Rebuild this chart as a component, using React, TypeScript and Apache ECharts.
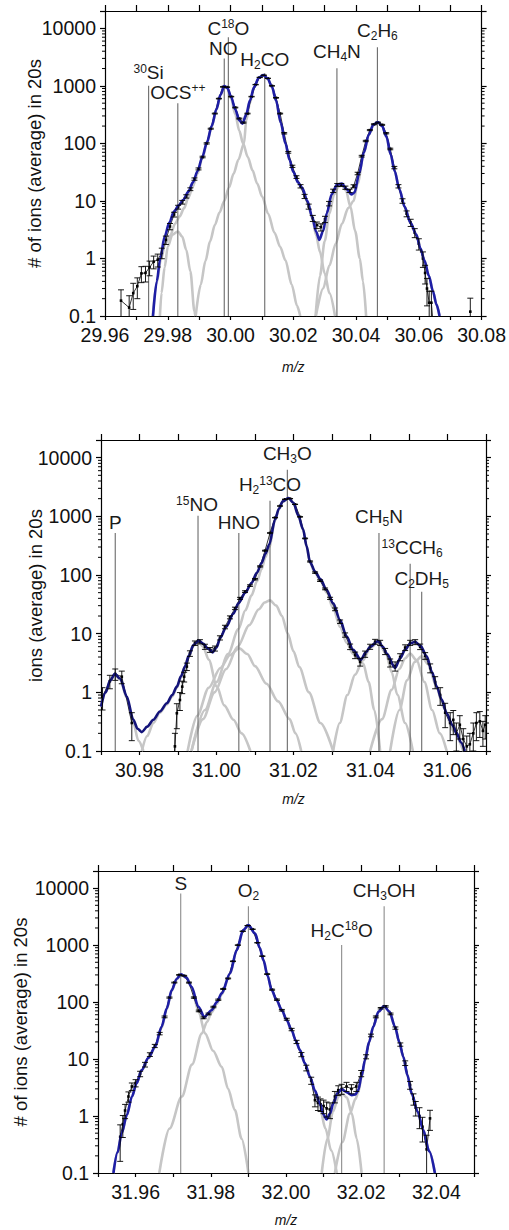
import React, { useEffect, useRef } from 'react';
import * as echarts from 'echarts';

type Pt = [number, number];
type DP = [number, number, number] | null;

// ---------------- Panel 1 (m/z 30) ----------------
const p1Fit: Pt[] = [
  [29.9753, 0.1], [29.9765, 0.4], [29.9776, 1.0], [29.979, 2.4], [29.9805, 4.2], [29.982, 6.6],
  [29.9835, 8.4], [29.985, 10.5], [29.9865, 14.4], [29.988, 21], [29.9895, 33], [29.991, 58],
  [29.9925, 105], [29.994, 200], [29.9955, 390], [29.9968, 700], [29.998, 990], [29.999, 920],
  [30.0002, 640], [30.0015, 390], [30.0028, 250], [30.0038, 221], [30.005, 320], [30.0062, 560],
  [30.0075, 950], [30.009, 1380], [30.0104, 1540], [30.0118, 1350], [30.0132, 960], [30.0145, 560],
  [30.016, 230], [30.0175, 100], [30.0188, 52], [30.02, 32], [30.0215, 21], [30.0228, 17],
  [30.0245, 10], [30.026, 5.3], [30.0273, 2.9], [30.0283, 2.1], [30.0295, 3.0], [30.0307, 6.1],
  [30.0322, 13], [30.034, 19.5], [30.0355, 20], [30.037, 16], [30.0385, 13], [30.0395, 14],
  [30.041, 30], [30.0425, 70], [30.044, 140], [30.0455, 210], [30.0469, 236], [30.0483, 200],
  [30.0497, 130], [30.051, 65], [30.0523, 33], [30.0538, 16], [30.0555, 7.9], [30.0573, 4.2],
  [30.0592, 2.6], [30.0605, 1.5], [30.0618, 0.92], [30.0632, 0.5], [30.0645, 0.27], [30.0656, 0.16],
  [30.0666, 0.1],
];
const p1CompOCS: Pt[] = [
  [29.9775, 0.1], [29.978, 0.25], [29.979, 0.7], [29.98, 1.6], [29.9815, 2.6], [29.9832, 2.95],
  [29.9846, 2.4], [29.9859, 1.4], [29.9872, 0.6], [29.9885, 0.12], [29.9888, 0.1],
];
const p1CompNO: Pt[] = [
  [29.9752, 0.1], [29.9765, 0.38], [29.9778, 0.95], [29.9792, 1.8], [29.9808, 2.5], [29.9823, 4.0],
  [29.9838, 5.4], [29.9852, 7.5], [29.9866, 11.5], [29.988, 18], [29.9895, 30], [29.991, 55],
  [29.9925, 100], [29.994, 195], [29.9955, 385], [29.9968, 690], [29.998, 980], [29.999, 900],
  [30.0002, 600], [30.0015, 320], [30.0028, 165], [30.004, 100], [30.0055, 58], [30.007, 34],
  [30.0085, 20], [30.0101, 11.8], [30.012, 6], [30.014, 2.8], [30.0158, 1.6], [30.0175, 0.93],
  [30.0195, 0.35], [30.0212, 0.15], [30.0222, 0.1],
];
const p1CompH2CO: Pt[] = [
  [29.9889, 0.1], [29.9905, 0.35], [29.992, 0.9], [29.9935, 2.0], [29.995, 3.8], [29.9965, 6.3],
  [29.998, 10], [29.9995, 17], [30.001, 30], [30.0025, 52], [30.0043, 100], [30.005, 250],
  [30.0062, 510], [30.0075, 930], [30.009, 1370], [30.0104, 1530], [30.0118, 1340], [30.0132, 955],
  [30.0145, 557], [30.016, 228], [30.0175, 99], [30.0188, 52], [30.02, 32], [30.0215, 21],
  [30.0228, 16], [30.0245, 9.5], [30.026, 5], [30.0273, 2.5], [30.0285, 1.3], [30.03, 0.55],
  [30.0315, 0.25], [30.0333, 0.1],
];
const p1CompCH4N: Pt[] = [
  [30.0271, 0.1], [30.0285, 0.5], [30.03, 2], [30.0315, 6], [30.033, 13], [30.0345, 18],
  [30.0355, 18.5], [30.0368, 15], [30.0382, 8], [30.0397, 3], [30.0412, 1], [30.0422, 0.4],
  [30.0432, 0.1],
];
const p1CompC2H6: Pt[] = [
  [30.0272, 0.1], [30.0295, 0.3], [30.0315, 0.75], [30.0335, 1.8], [30.0355, 4], [30.0375, 7.5],
  [30.0392, 10], [30.0405, 20], [30.0425, 68], [30.044, 138], [30.0455, 208], [30.0469, 236],
  [30.0483, 200], [30.0497, 130], [30.051, 65], [30.0523, 33], [30.0538, 15.5], [30.0555, 7.9],
  [30.0573, 4.2], [30.0592, 2.6], [30.0605, 1.5], [30.0618, 0.92], [30.0632, 0.5], [30.0645, 0.27],
  [30.0656, 0.16], [30.0666, 0.1],
];
const p1Data: DP[] = [
  [29.9651, 0.185, 0.1], [29.9677, 0.14, 0.085], [29.969, 0.25, 0.12], [29.9703, 0.33, 0.13],
  [29.9716, 0.55, 0.17], [29.9729, 0.56, 0.17], [29.9742, 0.7, 0.2], [29.9755, 0.88, 0.22],
  [29.9768, 0.95, 0.24], [29.9781, 1.25, 0.26], [29.9794, 2.1, 0.35], [29.9807, 3.6, 0.45],
  [29.982, 5.8, 0.55], [29.9833, 7.8, 0.6], [29.9846, 9.5, 0.7], [29.9859, 12, 0.8],
  [29.9872, 16, 0.9], [29.9885, 24, 1.1], [29.9898, 36, 1.4], [29.9911, 58, 1.8],
  [29.9924, 100, 2.5], [29.9937, 180, 3.5], [29.995, 330, 5], [29.9963, 600, 7],
  [29.9976, 960, 9], [29.9989, 950, 9], [30.0002, 650, 7], [30.0015, 420, 6],
  [30.0028, 270, 5], [30.0041, 230, 5], [30.0054, 330, 5], [30.0067, 650, 7],
  [30.008, 1050, 9], [30.0093, 1400, 11], [30.0106, 1530, 11], [30.0119, 1350, 10],
  [30.0132, 1000, 9], [30.0145, 620, 7], [30.0158, 330, 5], [30.0171, 150, 4],
  [30.0184, 70, 2.5], [30.0197, 40, 1.8], [30.021, 26, 1.4], [30.0223, 18, 1.2],
  [30.0236, 12, 1], [30.0249, 8, 0.8], [30.0262, 5, 0.6], [30.0275, 3.8, 0.5],
  [30.0288, 3.5, 0.5], [30.0301, 4.8, 0.6], [30.0314, 9, 0.8], [30.0327, 15, 1],
  [30.034, 19, 1.1], [30.0353, 19, 1.1], [30.0366, 17, 1.1], [30.0379, 15, 1],
  [30.0392, 18, 1.1], [30.0405, 30, 1.5], [30.0418, 60, 2], [30.0431, 110, 3],
  [30.0444, 170, 3.5], [30.0457, 215, 4], [30.047, 230, 4], [30.0483, 210, 4],
  [30.0496, 150, 3.5], [30.0509, 80, 2.5], [30.0522, 38, 1.8], [30.0535, 18, 1.2],
  [30.0548, 10, 0.9], [30.0561, 6, 0.7], [30.0574, 4.2, 0.6], [30.0587, 2.8, 0.5],
  [30.06, 1.8, 0.4], [30.0613, 1.0, 0.3], [30.062, 0.56, 0.2], [30.0626, 0.3, 0.15],
  [30.0633, 0.17, 0.1], [30.064, 0.17, 0.1], [30.0648, 0.05, 0],
  null,
  [30.0764, 0.119, 0.085],
];
const p1Lines: Pt[] = [
  [29.9739, 1000], [29.9832, 500], [29.998, 3000], [29.9993, 7000], [30.0109, 1660], [30.0339, 2020], [30.0468, 4700],
];
const p1Labels: string[] = [
  '{sup|30}{m|Si}', '{m|OCS}{sup|++}', '{m|NO}', '{m|C}{sup|18}{m|O}', '{m|H}{sub|2}{m|CO}', '{m|CH}{sub|4}{m|N}', '{m|C}{sub|2}{m|H}{sub|6}',
];
const p1LabelOffsets: Pt[] = [[0, -13], [0, -11], [-1, -10], [0, -9], [0, -14], [0, -17], [0, -17]];

// ---------------- Panel 2 (m/z 31) ----------------
const p2Fit: Pt[] = [
  [30.97, 0.57], [30.9712, 1.0], [30.9724, 1.6], [30.9736, 2.06], [30.975, 1.7], [30.9767, 0.85],
  [30.9784, 0.34], [30.9795, 0.24], [30.9806, 0.21], [30.982, 0.26], [30.9836, 0.34], [30.9853, 0.47],
  [30.9871, 0.65], [30.9885, 0.9], [30.9897, 1.25], [30.9908, 1.9], [30.9918, 2.75], [30.9928, 4.2],
  [30.994, 6.4], [30.9953, 7.6], [30.9965, 6.8], [30.9978, 5.6], [30.999, 4.8], [31.0, 5.8],
  [31.001, 8.5], [31.0025, 13], [31.0044, 22], [31.0057, 33], [31.0075, 50], [31.0091, 73],
  [31.0105, 110], [31.0117, 160], [31.0127, 230], [31.0137, 330], [31.0152, 875], [31.0162, 1350],
  [31.0172, 1800], [31.0187, 2050], [31.02, 1700], [31.0212, 1050], [31.0225, 600], [31.0234, 310],
  [31.0243, 165], [31.0256, 115], [31.027, 85], [31.0286, 56], [31.0303, 33], [31.0321, 17],
  [31.0338, 9], [31.0355, 5.3], [31.0375, 3.6], [31.0388, 4.8], [31.0399, 6.0], [31.042, 7.5],
  [31.0432, 6.0], [31.0442, 4.6], [31.0464, 2.6], [31.0477, 3.8], [31.049, 5.3], [31.0503, 6.8],
  [31.0516, 7.3], [31.053, 6.2], [31.0546, 4.1], [31.056, 2.2], [31.0572, 1.25], [31.0585, 0.75],
  [31.0598, 0.44], [31.0612, 0.28], [31.0624, 0.2], [31.0635, 0.14], [31.0645, 0.1],
];
const p2CompP: Pt[] = [
  [30.97, 0.57], [30.9712, 1.0], [30.9724, 1.6], [30.9736, 2.0], [30.975, 1.65], [30.9767, 0.8],
  [30.9784, 0.3], [30.9797, 0.15], [30.981, 0.1],
];
const p2Comp15NO: Pt[] = [
  [30.9806, 0.1], [30.982, 0.18], [30.9836, 0.3], [30.9853, 0.45], [30.9871, 0.62], [30.9885, 0.85],
  [30.9897, 1.2], [30.9908, 1.8], [30.9918, 2.7], [30.9928, 4.1], [30.994, 6.2], [30.9953, 7.2],
  [30.9965, 6.0], [30.998, 3.6], [31.0001, 1.25], [31.002, 0.6], [31.0044, 0.34], [31.0065, 0.2],
  [31.0088, 0.1],
];
const p2CompHNO: Pt[] = [
  [30.9925, 0.1], [30.995, 0.4], [30.998, 1.2], [31.001, 2.6], [31.0035, 4.3], [31.0059, 5.65],
  [31.008, 4.5], [31.01, 2.8], [31.013, 1.4], [31.016, 0.7], [31.019, 0.35], [31.0205, 0.2],
  [31.022, 0.1],
];
const p2CompH213CO: Pt[] = [
  [30.9935, 0.1], [30.9965, 0.35], [30.9995, 1.0], [31.0025, 2.5], [31.0055, 6], [31.0085, 14],
  [31.011, 26], [31.0125, 34], [31.0139, 37], [31.0155, 30], [31.017, 20], [31.0185, 10],
  [31.02, 5], [31.0215, 2.7], [31.024, 1.0], [31.027, 0.3], [31.0303, 0.1],
];
const p2CompCH3O: Pt[] = [
  [30.9935, 0.1], [30.997, 0.5], [31.0, 1.5], [31.003, 4.5], [31.0057, 12], [31.0075, 25],
  [31.0091, 45], [31.0105, 78], [31.0117, 125], [31.0127, 200], [31.0137, 300], [31.0152, 840],
  [31.0162, 1320], [31.0172, 1780], [31.0187, 2040], [31.02, 1690], [31.0212, 1045], [31.0225, 595],
  [31.0234, 305], [31.0243, 160], [31.0256, 108], [31.027, 80], [31.0286, 50], [31.0303, 27],
  [31.0321, 13], [31.0338, 7], [31.0355, 4.5], [31.0381, 3.1], [31.0395, 1.5], [31.041, 0.5],
  [31.0425, 0.1],
];
const p2CompCH5N: Pt[] = [
  [31.0303, 0.1], [31.032, 0.3], [31.034, 0.9], [31.036, 2.0], [31.038, 3.5], [31.04, 5.8],
  [31.042, 7.2], [31.044, 4.6], [31.0455, 2.2], [31.047, 0.9], [31.049, 0.3], [31.051, 0.1],
];
const p2Comp13CCH6: Pt[] = [
  [31.0399, 0.1], [31.043, 0.35], [31.0455, 1.1], [31.0475, 2.5], [31.049, 3.8], [31.0503, 4.6],
  [31.052, 3.5], [31.054, 1.5], [31.056, 0.5], [31.058, 0.2], [31.0598, 0.1],
];
const p2CompC2DH5: Pt[] = [
  [31.0451, 0.1], [31.0475, 0.5], [31.0495, 1.6], [31.0515, 3.3], [31.0533, 4.1], [31.055, 3.0],
  [31.057, 1.3], [31.059, 0.55], [31.0615, 0.22], [31.0641, 0.1],
];
const p2Data: DP[] = [
  [30.9704, 0.85, 0.35], [30.9723, 1.55, 0.4], [30.9737, 2.05, 0.45], [30.9754, 1.85, 0.45],
  [30.978, 0.3, 0.15],
  null,
  [30.9885, 0.04, 0], [30.9892, 0.12, 0.08], [30.9897, 0.44, 0.2], [30.9905, 0.74, 0.25],
  [30.9911, 1.25, 0.3], [30.9916, 1.85, 0.35], [30.9923, 2.75, 0.4], [30.9931, 4.6, 0.5],
  [30.9944, 6.9, 0.6], [30.9957, 7.3, 0.6], [30.997, 6.0, 0.6], [30.9983, 5.3, 0.5],
  [30.9996, 5.6, 0.55], [31.0009, 8.5, 0.7], [31.0022, 13, 0.9], [31.0035, 19, 1.1],
  [31.0048, 27, 1.3], [31.0061, 40, 1.6], [31.0074, 52, 1.8], [31.0087, 66, 2],
  [31.01, 85, 2.3], [31.0113, 140, 3], [31.0126, 260, 4], [31.0139, 520, 6],
  [31.0152, 950, 8], [31.0165, 1500, 10], [31.0178, 1950, 11], [31.0191, 2000, 11],
  [31.0204, 1600, 10], [31.0217, 980, 8], [31.023, 420, 5], [31.0243, 170, 3.5],
  [31.0256, 110, 3], [31.0269, 80, 2.5], [31.0282, 58, 2], [31.0295, 40, 1.7],
  [31.0308, 26, 1.4], [31.0321, 16, 1.1], [31.0334, 9.5, 0.8], [31.0347, 6, 0.65],
  [31.036, 4.3, 0.55], [31.0373, 3.3, 0.5], [31.0386, 4.5, 0.55], [31.0399, 6.0, 0.6],
  [31.0412, 7.3, 0.7], [31.0425, 7.0, 0.7], [31.0438, 5.0, 0.6], [31.0451, 3.2, 0.5],
  [31.0464, 2.8, 0.5], [31.0477, 4.0, 0.55], [31.049, 5.8, 0.65], [31.0503, 7.0, 0.7],
  [31.0516, 7.2, 0.7], [31.0529, 6.0, 0.65], [31.0542, 4.2, 0.55], [31.0555, 2.6, 0.45],
  [31.0568, 1.5, 0.35], [31.0581, 0.9, 0.3], [31.0594, 0.45, 0.2], [31.0607, 0.3, 0.15],
  [31.0615, 0.34, 0.15], [31.0623, 0.2, 0.1], [31.0632, 0.28, 0.12], [31.0641, 0.16, 0.08],
  [31.065, 0.12, 0.06], [31.0658, 0.13, 0.07], [31.0667, 0.2, 0.1], [31.0675, 0.3, 0.15],
  [31.0684, 0.32, 0.15], [31.0692, 0.22, 0.1], [31.0698, 0.28, 0.12],
];
const p2Lines: Pt[] = [
  [30.9737, 520], [30.9952, 1020], [31.0058, 520], [31.0139, 1845], [31.0184, 6240], [31.0422, 520], [31.0503, 155], [31.0533, 52],
];
const p2Labels: string[] = [
  '{m|P}', '{sup|15}{m|NO}', '{m|HNO}', '{m|H}{sub|2}{sup|13}{m|CO}', '{m|CH}{sub|3}{m|O}', '{m|CH}{sub|5}{m|N}', '{sup|13}{m|CCH}{sub|6}', '{m|C}{sub|2}{m|DH}{sub|5}',
];
const p2LabelOffsets: Pt[] = [[0, -10], [-1, -11], [0, -10], [0, -16], [0, -16], [0, -16], [2, -16], [0, -13]];

// ---------------- Panel 3 (m/z 32) ----------------
const p3Fit: Pt[] = [
  [31.9541, 0.1], [31.9552, 0.23], [31.9563, 0.5], [31.9577, 1.05], [31.959, 2.18], [31.9603, 3.8],
  [31.9616, 6.4], [31.9634, 10.5], [31.9652, 16.4], [31.9669, 37], [31.9683, 78], [31.9696, 162],
  [31.9709, 255], [31.9721, 309], [31.9735, 270], [31.9749, 186], [31.9767, 83], [31.9783, 55],
  [31.9802, 72], [31.9816, 100], [31.9829, 142], [31.9851, 318], [31.9869, 817], [31.9886, 1830],
  [31.99, 2240], [31.9918, 1590], [31.993, 900], [31.994, 546], [31.9951, 290], [31.9962, 162],
  [31.9975, 108], [31.9989, 72], [32.0002, 48], [32.0015, 32], [32.0026, 21], [32.0037, 14.4],
  [32.005, 8.5], [32.0064, 4.9], [32.0077, 2.8], [32.009, 1.67], [32.01, 1.05], [32.0108, 0.87],
  [32.0117, 1.1], [32.0126, 1.67], [32.0137, 2.5], [32.0148, 2.94], [32.0162, 2.6], [32.0175, 2.33],
  [32.0185, 2.4], [32.0192, 2.85], [32.0201, 5], [32.021, 9.6], [32.0221, 20], [32.0232, 37],
  [32.0246, 68], [32.0261, 85], [32.0275, 68], [32.029, 37], [32.0301, 20], [32.0312, 11],
  [32.0323, 5.2], [32.0334, 2.5], [32.035, 1.2], [32.0365, 0.57], [32.0381, 0.24], [32.0396, 0.1],
];
const p3CompS: Pt[] = [
  [31.9541, 0.1], [31.9552, 0.23], [31.9563, 0.5], [31.9577, 1.05], [31.959, 2.15], [31.9603, 3.8],
  [31.9616, 6.3], [31.9634, 10.3], [31.9652, 16], [31.9669, 35], [31.9683, 75], [31.9696, 158],
  [31.9709, 250], [31.9721, 305], [31.9735, 265], [31.9749, 178], [31.9767, 70], [31.9785, 28],
  [31.9806, 14], [31.9829, 7.3], [31.9846, 3], [31.9864, 1.27], [31.9882, 0.4], [31.99, 0.1],
];
const p3CompO2: Pt[] = [
  [31.9663, 0.1], [31.969, 0.6], [31.9723, 2.2], [31.975, 8], [31.9776, 28], [31.979, 45],
  [31.9802, 66], [31.9816, 93], [31.9829, 135], [31.9851, 315], [31.9869, 815], [31.9886, 1830],
  [31.99, 2240], [31.9918, 1590], [31.993, 900], [31.994, 546], [31.9951, 290], [31.9962, 162],
  [31.9975, 108], [31.9989, 72], [32.0002, 48], [32.0015, 32], [32.0026, 21], [32.0037, 14.4],
  [32.005, 8.5], [32.0064, 4.8], [32.0077, 2.6], [32.009, 1.4], [32.0105, 0.6], [32.012, 0.25],
  [32.0135, 0.1],
];
const p3CompH2C18O: Pt[] = [
  [32.0095, 0.1], [32.011, 0.4], [32.0125, 1.2], [32.014, 2.2], [32.015, 2.45], [32.0162, 2.1],
  [32.0175, 1.1], [32.0188, 0.4], [32.0201, 0.1],
];
const p3CompCH3OH: Pt[] = [
  [32.013, 0.1], [32.015, 0.35], [32.017, 1.1], [32.0185, 2.0], [32.0192, 2.6], [32.0201, 4.7],
  [32.021, 9.2], [32.0221, 19.5], [32.0232, 36.5], [32.0246, 67], [32.0261, 85], [32.0275, 68],
  [32.029, 37], [32.0301, 20], [32.0312, 11], [32.0323, 5.2], [32.0334, 2.5], [32.035, 1.2],
  [32.0365, 0.57], [32.0381, 0.24], [32.0396, 0.1],
];
const p3Data: DP[] = [
  [31.9559, 0.43, 0.27], [31.9566, 0.72, 0.3], [31.9572, 1.25, 0.35], [31.9581, 2.2, 0.45],
  [31.959, 3.3, 0.5], [31.96, 3.8, 0.55], [31.9612, 5.5, 0.6], [31.9625, 8, 0.75],
  [31.9638, 12, 0.9], [31.9651, 17, 1.1], [31.9664, 28, 1.4], [31.9677, 55, 1.9],
  [31.969, 120, 2.8], [31.9703, 220, 3.8], [31.9716, 300, 4.5], [31.9729, 290, 4.5],
  [31.9742, 220, 4], [31.9755, 120, 3], [31.9768, 70, 2.3], [31.9781, 53, 2],
  [31.9794, 62, 2.1], [31.9807, 82, 2.4], [31.982, 110, 2.8], [31.9833, 170, 3.5],
  [31.9846, 260, 4.2], [31.9859, 520, 6], [31.9872, 1000, 8], [31.9885, 1750, 11],
  [31.9898, 2200, 12], [31.9911, 1900, 11], [31.9924, 1100, 9], [31.9937, 640, 7],
  [31.995, 310, 4.5], [31.9963, 165, 3.5], [31.9976, 110, 3], [31.9989, 72, 2.3],
  [32.0002, 50, 2], [32.0015, 33, 1.6], [32.0028, 20, 1.3], [32.0041, 12, 1],
  [32.0054, 7, 0.8], [32.0067, 4.2, 0.6], [32.0077, 1.9, 0.45], [32.0085, 1.7, 0.45],
  [32.0092, 1.6, 0.4], [32.01, 1.5, 0.4], [32.0108, 1.36, 0.4], [32.0117, 1.3, 0.4],
  [32.013, 2.2, 0.5], [32.0139, 2.85, 0.55], [32.0148, 3.0, 0.6], [32.0161, 3.3, 0.6],
  [32.0174, 3.0, 0.55], [32.0187, 3.3, 0.6], [32.02, 5.6, 0.7], [32.0213, 11, 0.9],
  [32.0226, 26, 1.4], [32.0239, 55, 2], [32.0252, 78, 2.3], [32.0265, 84, 2.4],
  [32.0278, 62, 2.1], [32.0291, 35, 1.6], [32.0304, 18, 1.2], [32.0317, 8.5, 0.8],
  [32.033, 3.5, 0.55], [32.0339, 2.0, 0.45], [32.0345, 1.4, 0.4], [32.0355, 1.0, 0.4],
  [32.0363, 0.65, 0.3], [32.0374, 0.26, 0.2], [32.0383, 0.91, 0.35],
];
const p3Lines: Pt[] = [[31.972, 8070], [31.99, 4830], [32.0148, 1000], [32.0261, 4830]];
const p3Labels: string[] = ['{m|S}', '{m|O}{sub|2}', '{m|H}{sub|2}{m|C}{sup|18}{m|O}', '{m|CH}{sub|3}{m|OH}'];
const p3LabelOffsets: Pt[] = [[0, -10], [0, -16], [0, -15], [0, -16]];

const yMinorTicks: number[] = [
  0.2, 0.3, 0.4, 0.5, 0.6, 0.7, 0.8, 0.9, 2, 3, 4, 5, 6, 7, 8, 9, 20, 30, 40, 50, 60, 70, 80, 90,
  200, 300, 400, 500, 600, 700, 800, 900, 2000, 3000, 4000, 5000, 6000, 7000, 8000, 9000,
];

const FONT = 'Liberation Sans, Arial, Helvetica, sans-serif';

const panels = [
  {
    grid: { left: 105, top: 11, width: 379, height: 305 }, xmin: 29.96, xmax: 30.08,
    yName: '# of ions (average) in 20s', yGap: 61, xGap: 44, fitColor: '#1e1ea6', lineColor: '#6a6a6a',
    fit: p1Fit, comps: [p1CompOCS, p1CompNO, p1CompH2CO, p1CompCH4N, p1CompC2H6], data: p1Data,
    lines: p1Lines, labels: p1Labels, offsets: p1LabelOffsets,
  },
  {
    grid: { left: 101, top: 440, width: 385, height: 311 }, xmin: 30.97, xmax: 31.07,
    yName: 'ions (average) in 20s', yGap: 56, xGap: 41, fitColor: '#13137a', lineColor: '#6a6a6a',
    fit: p2Fit, comps: [p2CompP, p2Comp15NO, p2CompHNO, p2CompH213CO, p2CompCH3O, p2CompCH5N, p2Comp13CCH6, p2CompC2DH5],
    data: p2Data, lines: p2Lines, labels: p2Labels, offsets: p2LabelOffsets,
  },
  {
    grid: { left: 98, top: 871, width: 376, height: 302 }, xmin: 31.95, xmax: 32.05,
    yName: '# of ions (average) in 20s', yGap: 68, xGap: 40, fitColor: '#1e1ea6', lineColor: '#8c8c8c',
    fit: p3Fit, comps: [p3CompS, p3CompO2, p3CompH2C18O, p3CompCH3OH], data: p3Data,
    lines: p3Lines, labels: p3Labels, offsets: p3LabelOffsets,
  },
];

function buildOption() {
  const grids: any[] = [];
  const xAxes: any[] = [];
  const yAxes: any[] = [];
  const series: any[] = [];
  const axisLine = { show: true, lineStyle: { color: '#000', width: 1.2 } };
  const TXT = '#1a1a1a';
  const rich = {
    m: { fontSize: 19, lineHeight: 20, verticalAlign: 'middle', fontFamily: FONT, color: TXT },
    sup: { fontSize: 12, lineHeight: 4, verticalAlign: 'top', fontFamily: FONT, color: TXT },
    sub: { fontSize: 12, lineHeight: 4, verticalAlign: 'top', padding: [9.5, 0, 0, 0], fontFamily: FONT, color: TXT },
  };

  panels.forEach((p, i) => {
    grids.push({ ...p.grid, containLabel: false });
    const xb = 2 * i, yl = 2 * i;
    xAxes.push({
      type: 'value', gridIndex: i, position: 'bottom', min: p.xmin, max: p.xmax, interval: 0.01,
      axisLine, splitLine: { show: false },
      axisTick: { show: true, inside: false, length: 4, lineStyle: { color: '#000', width: 1.2 } },
      axisLabel: {
        margin: 9, fontSize: 19.5, color: '#111', fontFamily: FONT,
        formatter: (v: number) => (Math.round(v * 100) % 2 === 0 ? v.toFixed(2) : ''),
        showMinLabel: true, showMaxLabel: true,
      },
      name: 'm/z', nameLocation: 'middle', nameGap: p.xGap, nameMoveOverlap: false,
      nameTextStyle: { fontStyle: 'italic', fontSize: 14, color: '#111', fontFamily: FONT },
    });
    xAxes.push({
      type: 'value', gridIndex: i, position: 'top', min: p.xmin, max: p.xmax, interval: 0.01,
      axisLine, splitLine: { show: false },
      axisTick: { show: true, inside: false, length: 6, lineStyle: { color: '#000', width: 1.2 } },
      axisLabel: { show: false },
    });
    const logFmt = (v: number) => {
      const l = Math.log10(v);
      if (Math.abs(l - Math.round(l)) > 1e-6) return '';
      return v < 1 ? '0.1' : String(Math.round(v));
    };
    yAxes.push({
      type: 'log', logBase: 10, gridIndex: i, position: 'left', min: 0.1, max: 20000,
      axisLine, splitLine: { show: false },
      axisTick: { show: true, inside: false, length: 5, lineStyle: { color: '#000', width: 1.2 } },
      axisLabel: { margin: 9, fontSize: 19.5, color: '#111', fontFamily: FONT, formatter: logFmt },
      name: p.yName, nameLocation: 'middle', nameGap: p.yGap, nameRotate: 90, nameMoveOverlap: false,
      nameTextStyle: { fontSize: 18.5, color: '#111', fontFamily: FONT },
    });
    yAxes.push({
      type: 'log', logBase: 10, gridIndex: i, position: 'right', min: 0.1, max: 20000,
      axisLine, splitLine: { show: false },
      axisTick: { show: true, inside: false, length: 5, lineStyle: { color: '#000', width: 1.2 } },
      axisLabel: { show: false },
    });

    // minor log ticks on both sides
    series.push({
      type: 'custom', xAxisIndex: xb, yAxisIndex: yl, clip: false, silent: true, z: 1,
      data: yMinorTicks.map((v) => [p.xmin, v]),
      renderItem: (params: any, api: any) => {
        const cs = params.coordSys;
        const y = api.coord([api.value(0), api.value(1)])[1];
        const st = { stroke: '#000', lineWidth: 1 };
        return {
          type: 'group',
          children: [
            { type: 'line', shape: { x1: cs.x - 3, y1: y, x2: cs.x, y2: y }, style: st },
            { type: 'line', shape: { x1: cs.x + cs.width, y1: y, x2: cs.x + cs.width + 3, y2: y }, style: st },
          ],
        };
      },
    });

    // gray components
    p.comps.forEach((c) => {
      series.push({
        type: 'line', xAxisIndex: xb, yAxisIndex: yl, data: c, showSymbol: false, smooth: 0.3,
        smoothMonotone: 'x', lineStyle: { color: '#c6c6c6', width: 2.6 }, z: 2, silent: true,
      });
    });

    // vertical marker lines
    series.push({
      type: 'custom', xAxisIndex: xb, yAxisIndex: yl, z: 3, silent: true,
      data: p.lines,
      renderItem: (params: any, api: any) => {
        const a = api.coord([api.value(0), 0.1]);
        const b = api.coord([api.value(0), api.value(1)]);
        return { type: 'line', shape: { x1: a[0], y1: a[1], x2: b[0], y2: b[1] }, style: { stroke: p.lineColor, lineWidth: 1.1 } };
      },
    });

    // data line + points (under the fit)
    series.push({
      type: 'line', xAxisIndex: xb, yAxisIndex: yl, z: 3, silent: true,
      data: p.data.map((d, k) => (d ? [d[0], d[1]] : [p.data[k - 1]![0], '-'])),
      symbol: 'rect', symbolSize: 2.6, showSymbol: true, connectNulls: false,
      itemStyle: { color: '#000' }, lineStyle: { color: '#000', width: 0.8 },
    });

    // fit
    series.push({
      type: 'line', xAxisIndex: xb, yAxisIndex: yl, data: p.fit, showSymbol: false, smooth: 0.3,
      smoothMonotone: 'x', lineStyle: { color: p.fitColor, width: 2.6 }, z: 4, silent: true,
    });

    // error bars
    series.push({
      type: 'custom', xAxisIndex: xb, yAxisIndex: yl, z: 5, clip: true, silent: true,
      data: p.data.filter((d) => d && d[2] > 0) as number[][],
      renderItem: (params: any, api: any) => {
        const x = api.value(0), y = api.value(1), e = api.value(2);
        const lo = Math.max(y - e, 0.001);
        const a = api.coord([x, lo]);
        const b = api.coord([x, y + e]);
        const w = 3;
        const st = { stroke: '#000', lineWidth: 0.9 };
        return {
          type: 'group',
          children: [
            { type: 'line', shape: { x1: a[0], y1: a[1], x2: b[0], y2: b[1] }, style: st },
            { type: 'line', shape: { x1: b[0] - w, y1: b[1], x2: b[0] + w, y2: b[1] }, style: st },
            { type: 'line', shape: { x1: a[0] - w, y1: a[1], x2: a[0] + w, y2: a[1] }, style: st },
          ],
        };
      },
    });

    // labels
    series.push({
      type: 'custom', xAxisIndex: xb, yAxisIndex: yl, z: 6, clip: false, silent: true,
      data: p.lines.map((l, k) => [l[0], l[1], k]),
      renderItem: (params: any, api: any) => {
        const k = api.value(2);
        const pt = api.coord([api.value(0), api.value(1)]);
        const off = p.offsets[k];
        return {
          type: 'text', x: pt[0] + off[0], y: pt[1] + off[1],
          style: { text: p.labels[k], rich, align: 'center', verticalAlign: 'middle', fill: TXT, fontFamily: FONT, fontSize: 19 },
        };
      },
    });
  });

  return {
    animation: false,
    backgroundColor: '#fff',
    textStyle: { fontFamily: FONT },
    grid: grids,
    xAxis: xAxes,
    yAxis: yAxes,
    series,
  };
}

export default function App() {
  const ref = useRef<HTMLDivElement>(null);
  useEffect(() => {
    document.body.style.margin = '0';
    if (!ref.current) return;
    const chart = echarts.init(ref.current, undefined, { renderer: 'svg' });
    chart.setOption(buildOption() as any);
    return () => chart.dispose();
  }, []);
  return <div ref={ref} style={{ width: 509, height: 1230, background: '#fff' }} />;
}
